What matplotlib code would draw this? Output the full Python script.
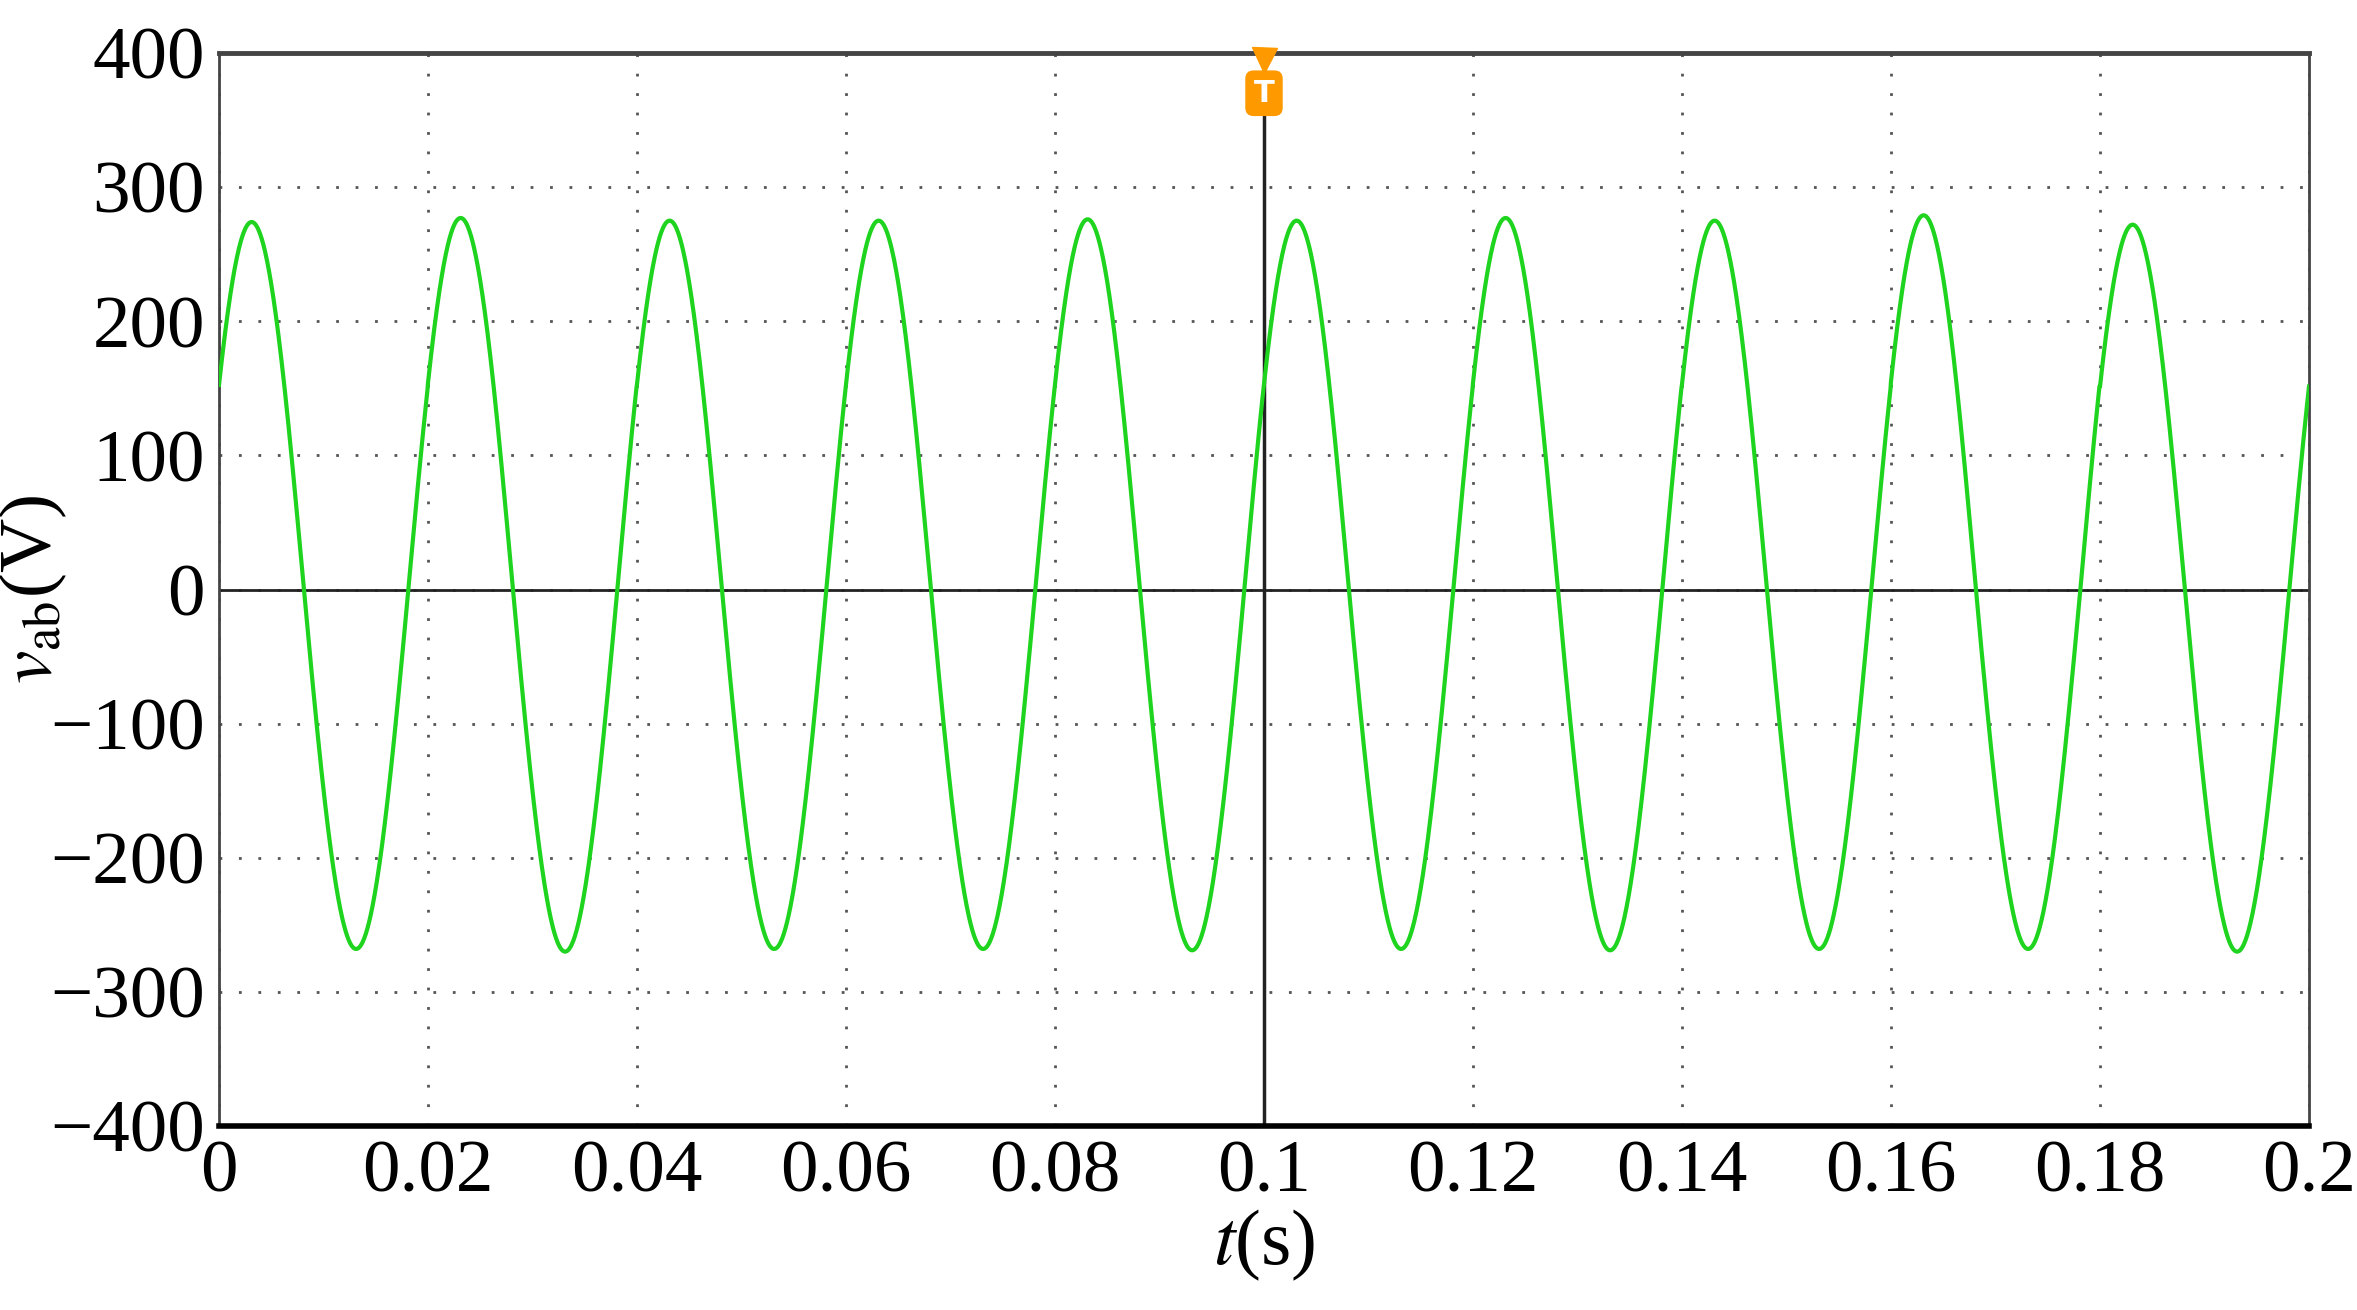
import numpy as np
import matplotlib
matplotlib.use("Agg")
import matplotlib.pyplot as plt

# Per-cycle values (50 Hz waveform, 10 cycles)
freq_hz = 50.0
phase_rad = 0.59
cycle_peaks = [274, 277, 275, 275, 276, 275, 277, 275, 279, 272]
cycle_troughs = [-268, -270, -268, -268, -269, -268, -269, -268, -268, -270]
xticks = [0, 0.02, 0.04, 0.06, 0.08, 0.1, 0.12, 0.14, 0.16, 0.18, 0.2]
xticklabels = ["0", "0.02", "0.04", "0.06", "0.08", "0.1", "0.12", "0.14", "0.16", "0.18", "0.2"]
yticks = [-400, -300, -200, -100, 0, 100, 200, 300, 400]
yticklabels = ["\u2212400", "\u2212300", "\u2212200", "\u2212100", "0", "100", "200", "300", "400"]

t = np.linspace(0, 0.2, 4001)
s = np.sin(2 * np.pi * freq_hz * t + phase_rad)
idx = np.clip((t * freq_hz).astype(int), 0, 9)
amp = np.where(s >= 0, np.array(cycle_peaks)[idx], -np.array(cycle_troughs)[idx])
v = amp * s

plt.rcParams['font.family'] = ['Liberation Serif', 'DejaVu Serif']
plt.rcParams['mathtext.fontset'] = 'stix'
fig = plt.figure(figsize=(23.57, 13.10), dpi=100)
ax = fig.add_axes([219 / 2357, 1 - 1126 / 1310, (2309 - 219) / 2357, (1126 - 53) / 1310])

ax.plot(t, v, color='#1ed41e', lw=3, zorder=3)
ax.axhline(0, color='#222222', lw=2, zorder=2)
ax.axvline(0.1, color='#222222', lw=2.5, zorder=2)
ax.set_xlim(0, 0.2)
ax.set_ylim(-400, 400)
ax.set_xticks(xticks)
ax.set_xticklabels(xticklabels)
ax.set_yticks(yticks)
ax.set_yticklabels(yticklabels)
ax.grid(True, which='major', color='#555555', ls=(0, (1, 6)), lw=2)
ax.tick_params(which='both', direction='in', labelsize=54, length=0, pad=10)
for sp in ax.spines.values():
    sp.set_color('#444444')
    sp.set_linewidth(2)
ax.spines['bottom'].set_linewidth(4)
ax.spines['bottom'].set_color('black')
ax.spines['top'].set_linewidth(3.5)

ax.set_xlabel(r"$t$(s)", fontsize=56, labelpad=0)
ax.set_ylabel(r"$v_{\mathrm{ab}}$(V)", fontsize=54)
ax.yaxis.set_label_coords(-0.072, 0.5)

# trigger marker
ax.plot([0.1], [395], marker='v', color='#ff9900', ms=18, clip_on=False, zorder=5)
ax.text(0.1, 370, "T", ha='center', va='center', fontsize=22, color='white', fontweight='bold',
        family='DejaVu Sans', zorder=6,
        bbox=dict(boxstyle='round,pad=0.25', fc='#ff9900', ec='#ff9900'))

fig.savefig("out.png", dpi=100)
